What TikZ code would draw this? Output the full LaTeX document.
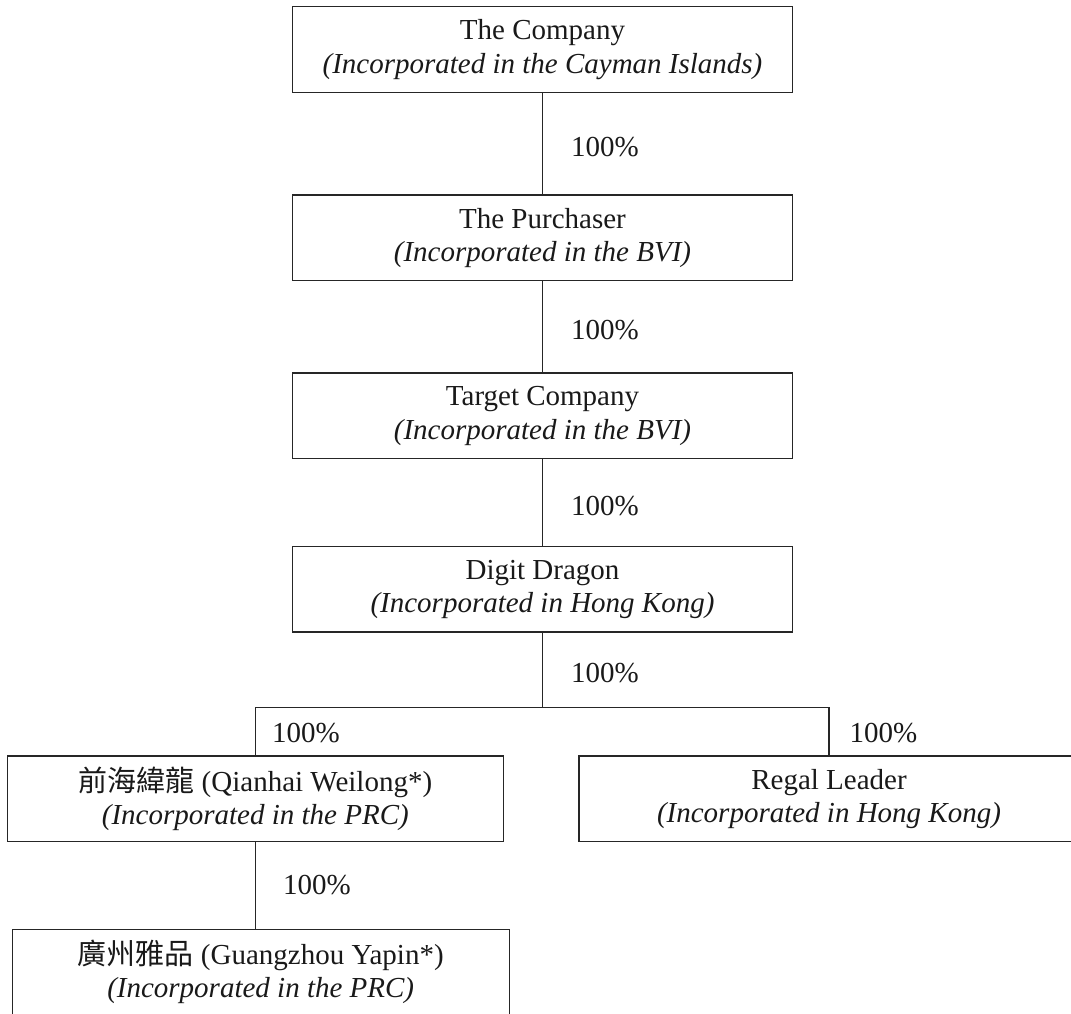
\documentclass[tikz,border=0pt]{standalone}
\usepackage{fontspec}
\setmainfont{Liberation Serif}
\newfontfamily\cjk{Noto Sans CJK TC}
\begin{document}
\begin{tikzpicture}[x=0.5pt, y=-0.5pt]
	\tikzset{co/.style={rectangle, draw=black!85, line width=0.7pt, minimum width=250pt, minimum height=42.8pt, align=center, inner sep=0pt, text=black!90, font=\fontsize{14.5}{16.7}\selectfont}};
	\tikzset{pc/.style={anchor=west, inner sep=0pt, text=black!90, font=\fontsize{14.5}{16.7}\selectfont}};
	\tikzset{ln/.style={draw=black!85, line width=0.7pt}};
	\useasboundingbox (0,0) rectangle (1071,1013);

	\node[co] (comp) at (542.5, 49.5) {The Company\\\textit{(Incorporated in the Cayman Islands)}};
	\node[co] (purch) at (542.5, 237.8) {The Purchaser\\\textit{(Incorporated in the BVI)}};
	\node[co] (targ) at (542.5, 415.9) {Target Company\\\textit{(Incorporated in the BVI)}};
	\node[co] (dig) at (542.5, 589.3) {Digit Dragon\\\textit{(Incorporated in Hong Kong)}};
	\node[co, minimum width=248pt] (qian) at (255.3, 798.9) {{\cjk 前海緯龍} (Qianhai Weilong*)\\\textit{(Incorporated in the PRC)}};
	\node[co] (regal) at (829, 798.9) {Regal Leader\\\textit{(Incorporated in Hong Kong)}};
	\node[co, minimum width=248.5pt] (guang) at (260.7, 972.1) {{\cjk 廣州雅品} (Guangzhou Yapin*)\\\textit{(Incorporated in the PRC)}};
	\coordinate (split) at (542.5, 707.3);

	\draw[ln] (comp) to node[pc, xshift=14pt, yshift=-1.5pt] {100\%} (purch);
	\draw[ln] (purch) to node[pc, xshift=14pt, yshift=-1.5pt] {100\%} (targ);
	\draw[ln] (targ) to node[pc, xshift=14pt, yshift=-1.5pt] {100\%} (dig);
	\draw[ln] (dig) to node[pc, xshift=14pt, yshift=-1.5pt] {100\%} (split);

	\draw[ln] (split) -| node[pc, pos=0.75, xshift=8pt, yshift=-0.8pt] {100\%} (qian);
	\draw[ln] (split) -| node[pc, pos=0.75, xshift=10pt, yshift=-0.8pt] {100\%} (regal);

	\draw[ln] (qian.south) -- node[pc, xshift=13.5pt] {100\%} (qian.south |- guang.north);
\end{tikzpicture}
\end{document}
